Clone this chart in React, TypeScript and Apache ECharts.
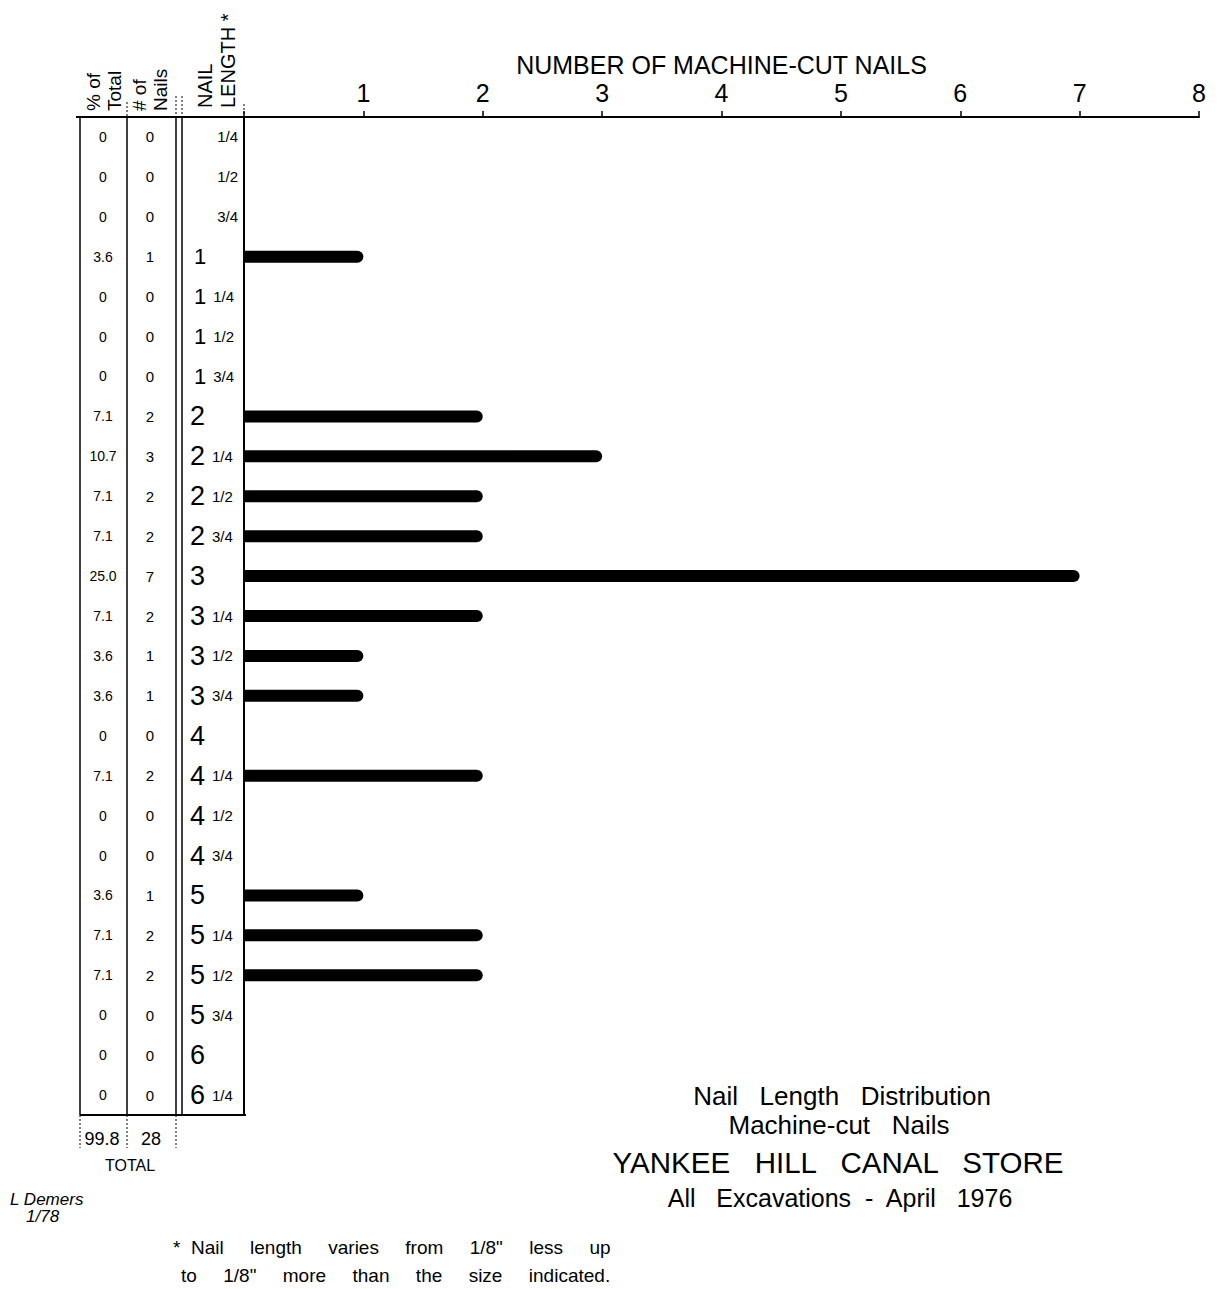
import React, { useEffect, useRef } from "react";
import * as echarts from "echarts";

const lengths = [
  "1/4", "1/2", "3/4", "1", "1 1/4", "1 1/2", "1 3/4", "2", "2 1/4", "2 1/2", "2 3/4",
  "3", "3 1/4", "3 1/2", "3 3/4", "4", "4 1/4", "4 1/2", "4 3/4", "5", "5 1/4", "5 1/2",
  "5 3/4", "6", "6 1/4",
];
const counts = [0, 0, 0, 1, 0, 0, 0, 2, 3, 2, 2, 7, 2, 1, 1, 0, 2, 0, 0, 1, 2, 2, 0, 0, 0];
const percents = [
  "0", "0", "0", "3.6", "0", "0", "0", "7.1", "10.7", "7.1", "7.1", "25.0", "7.1", "3.6",
  "3.6", "0", "7.1", "0", "0", "3.6", "7.1", "7.1", "0", "0", "0",
];
const totals = ["99.8", "28"];
const xTicks = [0, 8, 1];

const FONT = "'Liberation Sans', 'DejaVu Sans', sans-serif";

export default function App() {
  const ref = useRef<HTMLDivElement>(null);
  useEffect(() => {
    document.body.style.margin = "0";
    const chart = echarts.init(ref.current!, null, { renderer: "svg" });
    const gl = 244;
    const gt = 117;
    const gh = 998;
    const txt = (x: number, y: number, text: string, size: number, extra: any = {}, styleExtra: any = {}) => ({
      type: "text",
      x,
      y,
      ...extra,
      style: {
        text,
        fontSize: size,
        fontFamily: FONT,
        fill: "#000",
        align: "center",
        verticalAlign: "middle",
        ...styleExtra,
      },
    });
    const ln = (x1: number, y1: number, x2: number, y2: number, w = 1.5, dash: any = null) => ({
      type: "line",
      shape: { x1, y1, x2, y2 },
      style: { stroke: "#000", lineWidth: w, lineDash: dash },
    });
    const lengthFormatter = (v: string) => {
      const parts = v.split(" ");
      if (parts.length === 2) {
        return `{${parts[0] === "1" ? "o" : "b"}|${parts[0]}}{f|${parts[1]}}`;
      }
      if (v.includes("/")) return `{r|${v}}`;
      return `{${v === "1" ? "o" : "b"}|${v}}`;
    };
    chart.setOption({
      animation: false,
      backgroundColor: "#fff",
      grid: { left: gl, top: gt, width: 955, height: gh, containLabel: false },
      xAxis: {
        type: "value",
        position: "top",
        min: xTicks[0],
        max: xTicks[1],
        interval: xTicks[2],
        name: "NUMBER OF MACHINE-CUT NAILS",
        nameLocation: "middle",
        nameGap: 40,
        nameMoveOverlap: false,
        nameTextStyle: { fontSize: 25, lineHeight: 25, fontFamily: FONT, color: "#000" },
        axisLine: { show: true, lineStyle: { color: "#000", width: 2 } },
        axisTick: { show: true, length: 6, lineStyle: { color: "#000", width: 1.5 } },
        axisLabel: {
          fontSize: 25,
          lineHeight: 24,
          fontFamily: FONT,
          color: "#000",
          margin: 12,
          formatter: (v: number) => (v === 0 ? "" : String(v)),
        },
        splitLine: { show: false },
      },
      yAxis: [
        {
          type: "category",
          inverse: true,
          data: lengths,
          axisLine: { show: true, lineStyle: { color: "#000", width: 2 } },
          axisTick: { show: false },
          axisLabel: {
            align: "left",
            margin: 54,
            formatter: lengthFormatter,
            rich: {
              b: { fontSize: 27, fontFamily: FONT, color: "#000" },
              o: { fontSize: 22, fontFamily: FONT, color: "#000", padding: [0, 0, 0, 4] },
              f: { fontSize: 15, fontFamily: FONT, color: "#000", padding: [0, 0, 0, 7] },
              r: { fontSize: 15, fontFamily: FONT, color: "#000", width: 48, align: "right" },
            },
          },
        },
        {
          type: "category",
          inverse: true,
          data: percents,
          position: "left",
          axisLine: { show: false },
          axisTick: { show: false },
          axisLabel: { margin: 141, align: "center", fontSize: 14, fontFamily: FONT, color: "#000" },
        },
        {
          type: "category",
          inverse: true,
          data: counts.map(String),
          position: "left",
          axisLine: { show: false },
          axisTick: { show: false },
          axisLabel: { margin: 94, align: "center", fontSize: 15, fontFamily: FONT, color: "#000" },
        },
      ],
      series: [
        {
          type: "bar",
          yAxisIndex: 0,
          data: counts,
          barWidth: 12,
          itemStyle: { color: "#000", borderRadius: [0, 6, 6, 0] },
        },
      ],
      graphic: [
        ln(76, gt, gl, gt, 2),
        ln(80, gt, 80, gt + gh, 1.5),
        ln(127, gt, 127, gt + gh, 1.5),
        ln(176, gt, 176, gt + gh, 1.5),
        ln(182, gt, 182, gt + gh, 1.5),
        ln(80, gt + gh, 246, gt + gh, 2),
        ln(80, gt + gh, 80, 1148, 1, [2, 2]),
        ln(127, gt + gh, 127, 1148, 1, [2, 2]),
        ln(176, gt + gh, 176, 1148, 1, [2, 2]),
        ln(127, 102, 127, gt, 1, [2, 2]),
        ln(176, 96, 176, gt, 1, [2, 2]),
        ln(182, 96, 182, gt, 1, [2, 2]),
        ln(244, 104, 244, gt, 1, [2, 2]),
        txt(104, 111, "% of\nTotal", 19, { rotation: Math.PI / 2 }, { align: "left", lineHeight: 21 }),
        txt(150, 111, "# of\nNails", 19, { rotation: Math.PI / 2 }, { align: "left", lineHeight: 21 }),
        txt(216, 108, "NAIL\nLENGTH *", 20, { rotation: Math.PI / 2 }, { align: "left", lineHeight: 23 }),
        txt(102, 1139, totals[0], 18),
        txt(151, 1139, totals[1], 18),
        txt(130, 1165, "TOTAL", 16),
        txt(10, 1199, "L Demers", 17, {}, { align: "left", fontStyle: "italic" }),
        txt(26, 1216, "1/78", 17, {}, { align: "left", fontStyle: "italic" }),
        txt(173, 1247, "*  Nail     length     varies     from     1/8\"     less     up", 19, {}, { align: "left" }),
        txt(181, 1275, "to     1/8\"     more     than     the     size     indicated.", 19, {}, { align: "left" }),
        txt(842, 1096, "Nail   Length   Distribution", 26),
        txt(839, 1125, "Machine-cut   Nails", 26),
        txt(838, 1162, "YANKEE   HILL   CANAL   STORE", 29.5),
        txt(840, 1198, "All   Excavations  -  April   1976", 25),
      ],
    });
    return () => chart.dispose();
  }, []);
  return <div ref={ref} style={{ width: 1225, height: 1289 }} />;
}
